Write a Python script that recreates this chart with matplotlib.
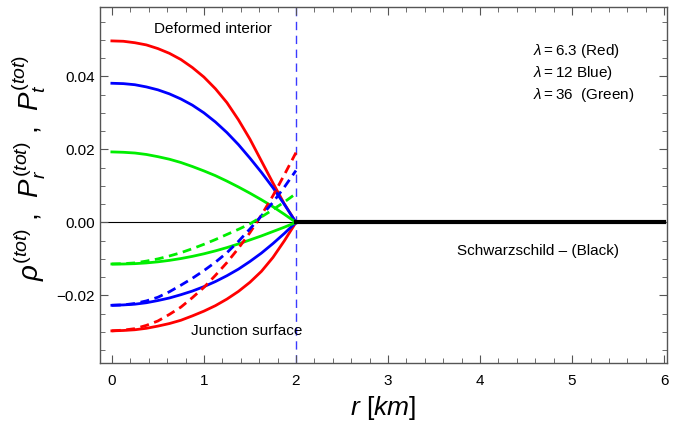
import numpy as np
import matplotlib
matplotlib.use('Agg')
import matplotlib.pyplot as plt
from matplotlib.ticker import MultipleLocator

plt.rcParams['font.family'] = ['Liberation Sans', 'DejaVu Sans']
plt.rcParams['mathtext.fontset'] = 'custom'
plt.rcParams['mathtext.rm'] = 'Liberation Sans'
plt.rcParams['mathtext.it'] = 'Liberation Sans:italic'

# radial grid inside the star (km)
r = [0.0, 0.125, 0.25, 0.375, 0.5, 0.625, 0.75, 0.875, 1.0,
     1.125, 1.25, 1.375, 1.5, 1.625, 1.75, 1.875, 2.0]

# density rho (solid, positive branch)
rho_red = [0.0497, 0.0496, 0.0492, 0.0486, 0.0476, 0.0463, 0.0446, 0.0424, 0.0398,
           0.0366, 0.0328, 0.0281, 0.0228, 0.0168, 0.0108, 0.0050, 0.0]
rho_blue = [0.0381, 0.0380, 0.0377, 0.0371, 0.0363, 0.0352, 0.0338, 0.0321, 0.0300,
            0.0275, 0.0246, 0.0213, 0.0176, 0.0137, 0.0095, 0.0049, 0.0]
rho_green = [0.0193, 0.0192, 0.0190, 0.0186, 0.0180, 0.0173, 0.0164, 0.0153, 0.0141,
             0.0128, 0.0113, 0.0097, 0.0080, 0.0062, 0.0043, 0.0022, 0.0]

# radial pressure (solid, negative branch)
pr_red = [-0.0297, -0.0296, -0.0294, -0.0290, -0.0284, -0.0277, -0.0268, -0.0256, -0.0243,
          -0.0228, -0.0210, -0.0189, -0.0164, -0.0134, -0.0096, -0.0050, 0.0]
pr_blue = [-0.0227, -0.0226, -0.0224, -0.0220, -0.0214, -0.0207, -0.0198, -0.0188, -0.0176,
           -0.0162, -0.0146, -0.0128, -0.0107, -0.0084, -0.0058, -0.0030, 0.0]
pr_green = [-0.0114, -0.0114, -0.0113, -0.0111, -0.0108, -0.0104, -0.0099, -0.0093, -0.0086,
            -0.0078, -0.0069, -0.0059, -0.0048, -0.0037, -0.0025, -0.0013, 0.0]

# tangential pressure (dashed)
pt_red = [-0.0297, -0.0295, -0.0291, -0.0282, -0.0270, -0.0252, -0.0232, -0.0206, -0.0178,
          -0.0145, -0.0110, -0.0071, -0.0028, 0.0020, 0.0073, 0.0131, 0.0191]
pt_blue = [-0.0227, -0.0226, -0.0222, -0.0215, -0.0205, -0.0190, -0.0172, -0.0153, -0.0132,
           -0.0109, -0.0083, -0.0052, -0.0018, 0.0018, 0.0055, 0.0097, 0.0142]
pt_green = [-0.0114, -0.0113, -0.0111, -0.0106, -0.0100, -0.0092, -0.0083, -0.0072, -0.0060,
            -0.0047, -0.0033, -0.0019, -0.0004, 0.0015, 0.0035, 0.0056, 0.0079]

# exterior Schwarzschild
r_ext = [2.0, 6.0]
ext_vals = [0.0, 0.0]
r_surface = 2.0

fig = plt.figure(figsize=(6.75, 4.3), dpi=100)
ax = fig.add_axes([0.148, 0.155, 0.840, 0.828])

ax.axhline(0, color='black', lw=0.8, zorder=1)
ax.axvline(r_surface, color='#3a3aff', lw=1.0, ls=(0, (6, 4)), zorder=1)

lw = 2.0
dash = (0, (3.2, 2))
green = '#00ee00'
for yv, c in [(rho_red, 'red'), (rho_blue, 'blue'), (rho_green, green)]:
    ax.plot(r, yv, color=c, lw=lw, zorder=3)
for yv, c in [(pr_red, 'red'), (pr_blue, 'blue'), (pr_green, green)]:
    ax.plot(r, yv, color=c, lw=lw, zorder=3)
for yv, c in [(pt_red, 'red'), (pt_blue, 'blue'), (pt_green, green)]:
    ax.plot(r, yv, color=c, lw=lw, ls=dash, zorder=3)
ax.plot(r_ext, ext_vals, color='black', lw=3, zorder=4)

ax.set_xlim(-0.13, 6.03)
ax.set_ylim(-0.0386, 0.0589)
ax.xaxis.set_major_locator(MultipleLocator(1))
ax.xaxis.set_minor_locator(MultipleLocator(0.2))
ax.yaxis.set_major_locator(MultipleLocator(0.02))
ax.yaxis.set_minor_locator(MultipleLocator(0.005))
ax.yaxis.set_major_formatter(plt.FuncFormatter(
    lambda v, p: ('%.2f' % v).replace('-', '\u2212') if abs(v) > 1e-9 else '0.00'))

ax.tick_params(which='both', direction='in', top=True, right=True, colors='#555555',
               labelcolor='black', labelsize=11)
ax.tick_params(which='major', length=6, width=0.8)
ax.tick_params(which='minor', length=3.5, width=0.6)
ax.tick_params(axis='x', pad=8)
for s in ax.spines.values():
    s.set_color('#555555')
    s.set_linewidth(1.0)

ax.set_xlabel(r'$r$ [$km$]', fontsize=19, labelpad=4)
ax.set_ylabel(r'$\rho^{(tot)}$ ,  $P_r^{(tot)}$ ,  $P_t^{(tot)}$', fontsize=20)
ax.yaxis.set_label_coords(-0.092, 0.55)

ax.text(1.1, 0.053, 'Deformed interior', ha='center', va='center', fontsize=11)
ax.text(1.47, -0.0297, 'Junction surface', ha='center', va='center', fontsize=11)
ax.text(4.63, -0.0078, 'Schwarzschild \u2013 (Black)', ha='center', va='center', fontsize=11)
ax.text(4.58, 0.0468, r'$\lambda = 6.3$ (Red)', ha='left', va='center', fontsize=11)
ax.text(4.58, 0.0408, r'$\lambda = 12$ Blue)', ha='left', va='center', fontsize=11)
ax.text(4.58, 0.0348, r'$\lambda = 36$  (Green)', ha='left', va='center', fontsize=11)

fig.savefig('out.png', dpi=100)
